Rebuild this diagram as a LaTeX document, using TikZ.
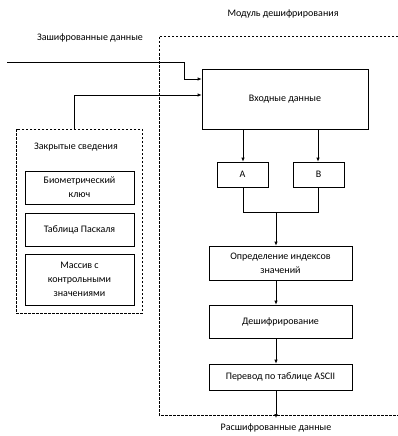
\documentclass[tikz,border=0pt]{standalone}
\usepackage{fontspec}
\setmainfont{Carlito}
\usetikzlibrary{arrows.meta}
\begin{document}
\begin{tikzpicture}[x=1pt,y=-1pt,
  every node/.style={font=\fontsize{10}{12}\selectfont, inner sep=0pt},
  blk/.style={draw, line width=0.7pt, minimum width=#1, align=center},
  frame/.style={draw, line width=0.6pt, dash pattern=on 2.5pt off 1.5pt},
  link/.style={draw, line width=0.7pt},
  arr/.style={link, -{Latex[length=4pt,width=3.5pt]}}]
\useasboundingbox (0,0) rectangle (398,436);

% frames
\draw[frame] (398,36) -- (159,36) -- (159,415) -- (398,415);
\node[frame, minimum width=126pt, minimum height=184pt] (privbox) at (79,221) {};

% labels
\node (mod) at (283,14) {Модуль дешифрирования};
\node (enc) at (90,38) {Зашифрованные данные};
\node (priv) at (76,147) {Закрытые сведения};
\node (dec) at (276,428) {Расшифрованные данные};

% private data boxes
\node[blk=109pt, minimum height=33pt] (bio) at (79.5,187.5) {Биометрический\\[2pt]ключ};
\node[blk=109pt, minimum height=33pt] (pas) at (79.5,229.5) {Таблица Паскаля};
\node[blk=109pt, minimum height=51pt] (arrm) at (79.5,279.5) {Массив с\\[2pt]контрольными\\[2pt]значениями};

% main chain
\node[blk=166pt, minimum height=60pt] (in) at (285,99) {Входные данные};
\node[blk=51pt, minimum height=25pt] (A) at (242.5,174.5) {A};
\node[blk=51pt, minimum height=25pt] (B) at (318.5,174.5) {B};
\node[blk=143pt, minimum height=34pt] (idx) at (280.5,263) {Определение индексов\\[2pt]значений};
\node[blk=143pt, minimum height=33pt] (dsh) at (280.5,321.5) {Дешифрирование};
\node[blk=143pt, minimum height=26pt] (asc) at (280.5,377) {Перевод по таблице ASCII};

% inputs
\coordinate (src) at (7,62);
\draw[arr] (src) -- (184,62) -- (184,79) -- (in.west |- 0,79);
\draw[arr] (privbox.north -| 74,0) -- (74,95) -- (in.west |- 0,95);

% flow
\draw[arr] (in.south -| 243,0) -- (A.north -| 243,0);
\draw[arr] (in.south -| 318,0) -- (B.north -| 318,0);
\draw[link] (A.south -| 243,0) -- (243,212) -- (318,212) -- (B.south -| 318,0);
\draw[arr] (276,212) -- (idx.north -| 276,0);
\draw[arr] (idx.south -| 276,0) -- (dsh.north -| 276,0);
\draw[arr] (dsh.south -| 276,0) -- (asc.north -| 276,0);
\coordinate (out) at (276,418);
\draw[arr] (asc.south -| 276,0) -- (out);
\end{tikzpicture}
\end{document}
